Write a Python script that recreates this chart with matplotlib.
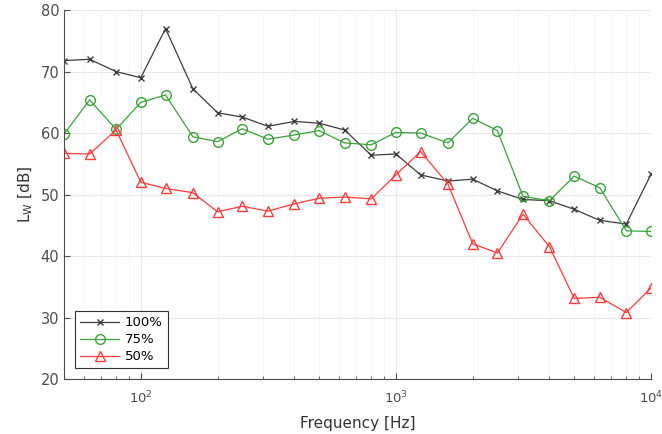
import numpy as np
import matplotlib
matplotlib.use("Agg")
import matplotlib.pyplot as plt
from matplotlib.ticker import LogLocator, NullFormatter

# third-octave band centre frequencies
freq = [50, 63, 80, 100, 125, 160, 200, 250, 315, 400, 500, 630, 800,
        1000, 1250, 1600, 2000, 2500, 3150, 4000, 5000, 6300, 8000, 10000]

lw_100 = [71.8, 72.0, 70.0, 69.0, 77.0, 67.2, 63.3, 62.6, 61.1, 61.9, 61.6, 60.5, 56.4,
          56.6, 53.2, 52.2, 52.5, 50.6, 49.2, 49.0, 47.6, 45.8, 45.2, 53.3]
lw_75 = [59.8, 65.4, 60.6, 65.0, 66.2, 59.4, 58.6, 60.7, 59.0, 59.7, 60.4, 58.4, 58.1,
         60.1, 60.0, 58.4, 62.4, 60.4, 49.7, 49.0, 53.0, 51.1, 44.1, 44.0]
lw_50 = [56.7, 56.6, 60.5, 52.0, 51.0, 50.3, 47.2, 48.1, 47.3, 48.5, 49.4, 49.6, 49.3,
         53.2, 57.0, 51.7, 42.0, 40.5, 46.8, 41.5, 33.1, 33.3, 30.8, 34.8]

labels = ["100%", "75%", "50%"]

fig = plt.figure(figsize=(6.62, 4.34), dpi=100)
ax = fig.add_axes([0.0967, 0.1267, 0.8867, 0.850])

ax.plot(freq, lw_100, color="#3c3c3c", marker="x", markersize=5, linewidth=0.9,
        label=labels[0])
ax.plot(freq, lw_75, color="#3aa13a", marker="o", markersize=7, markerfacecolor="none",
        linewidth=0.9, label=labels[1])
ax.plot(freq, lw_50, color="#ff3b3b", marker="^", markersize=7, markerfacecolor="none",
        linewidth=0.9, label=labels[2])

ax.set_xscale("log")
ax.set_xlim(50, 10000)
ax.set_ylim(20, 80)
ax.set_yticks(np.arange(20, 81, 10))
ax.xaxis.set_minor_locator(LogLocator(base=10, subs=np.arange(2, 10)))
ax.xaxis.set_minor_formatter(NullFormatter())

ax.grid(True, which="major", color="#e8e8e8", linewidth=0.8)
ax.grid(True, which="minor", axis="x", color="#f5f5f5", linewidth=0.6)
ax.set_axisbelow(True)

for s in ["top", "right"]:
    ax.spines[s].set_visible(False)
for s in ["left", "bottom"]:
    ax.spines[s].set_color("#4d4d4d")
    ax.spines[s].set_linewidth(0.8)
ax.tick_params(which="both", direction="in", colors="#4d4d4d", labelsize=10.5)
ax.tick_params(axis="x", pad=8, labelsize=9.5)
ax.tick_params(which="minor", length=2.5)
ax.tick_params(which="major", length=4)

ax.set_xlabel("Frequency [Hz]", fontsize=11, color="#333333", labelpad=7)
ax.set_ylabel("L$_\\mathregular{W}$ [dB]", fontsize=11, color="#333333")

leg = ax.legend(loc="lower left", fontsize=9.5, fancybox=False, framealpha=1,
                edgecolor="#333333", handlelength=3.0, handletextpad=0.4,
                borderaxespad=0.8, borderpad=0.4, labelspacing=0.3)
leg.get_frame().set_linewidth(0.8)

fig.savefig("out.png", dpi=100)
